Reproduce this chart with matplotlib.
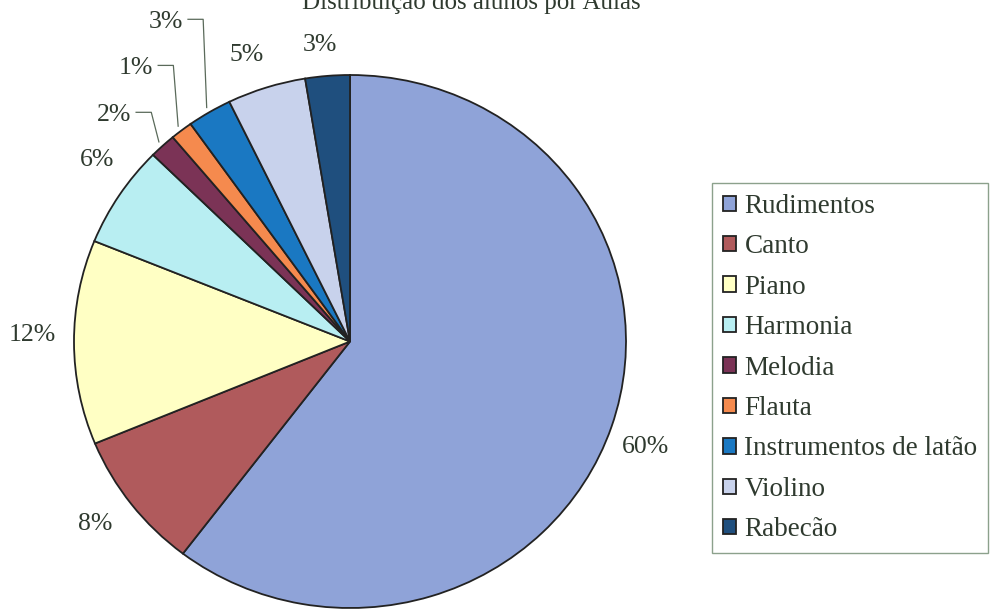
import matplotlib.pyplot as plt
import numpy as np

plt.rcParams['font.family'] = ['Liberation Serif', 'DejaVu Serif']

title = 'Distribuição dos alunos por Aulas'
categories = ['Rudimentos', 'Canto', 'Piano', 'Harmonia', 'Melodia', 'Flauta',
              'Instrumentos de latão', 'Violino', 'Rabecão']
# share of students per class (%)
shares = [60.35, 8.4, 12.4, 6.2, 1.55, 1.3, 2.6, 4.6, 2.6]
colors = ['#8FA3D8', '#B05A5C', '#FFFFC4', '#B8EEF2', '#7B3356', '#F58A4E',
          '#1A78C2', '#C8D2EC', '#1F4F7E']

# label placement (unit pie coords) and which ones get a leader line
label_xy = [(1.069, -0.396), (-0.924, -0.685), (-1.152, 0.024), (-0.917, 0.681),
            (-0.855, 0.850), (-0.775, 1.026), (-0.667, 1.199), (-0.373, 1.075),
            (-0.109, 1.113)]
leader = [False, False, False, False, True, True, True, False, False]

W, H = 992, 610
cx, cy, rx, ry = 350, 341.5, 276, 266.5   # pixels, y from top
txt_col = '#2f3a2f'

fig = plt.figure(figsize=(W / 100, H / 100), dpi=100)
fig.patch.set_facecolor('white')

pax = fig.add_axes([(cx - rx) / W, (H - cy - ry) / H, 2 * rx / W, 2 * ry / H])
wedges, _ = pax.pie(shares, colors=colors, startangle=90, counterclock=False,
                    radius=1, wedgeprops=dict(edgecolor='#222222', linewidth=1.3))
pax.set_aspect('auto')
pax.set_xlim(-1, 1)
pax.set_ylim(-1, 1)
pax.axis('off')

for i, w in enumerate(wedges):
    lx, ly = label_xy[i]
    pax.text(lx, ly, f'{round(shares[i]):.0f}%', ha='center', va='center',
             fontsize=18.5, color=txt_col, clip_on=False)
    if leader[i]:
        mid = np.deg2rad((w.theta1 + w.theta2) / 2)
        ex, ey = 1.02 * np.cos(mid), 1.02 * np.sin(mid)
        x0 = lx + 0.08
        kx = x0 + 0.055
        ly2 = ly + 0.01
        pax.plot([x0, kx, ex], [ly2, ly2, ey], color='#5a6a5a', lw=0.9,
                 clip_on=False)

fig.text(302 / W, 1 - 9 / H, title, ha='left', va='baseline', fontsize=18,
         color=txt_col)

leg = fig.legend(wedges, categories, loc='upper left',
                 bbox_to_anchor=(712 / W, 1 - 183 / H), borderaxespad=0,
                 fontsize=19.5, frameon=True, fancybox=False,
                 handlelength=0.5, handleheight=0.5, handletextpad=0.3,
                 labelspacing=0.57, borderpad=0.4)
leg.get_frame().set_edgecolor('#6f8a6f')
leg.get_frame().set_linewidth(1.0)
for t in leg.get_texts():
    t.set_color(txt_col)

fig.savefig('out.png', dpi=100, facecolor='white')
